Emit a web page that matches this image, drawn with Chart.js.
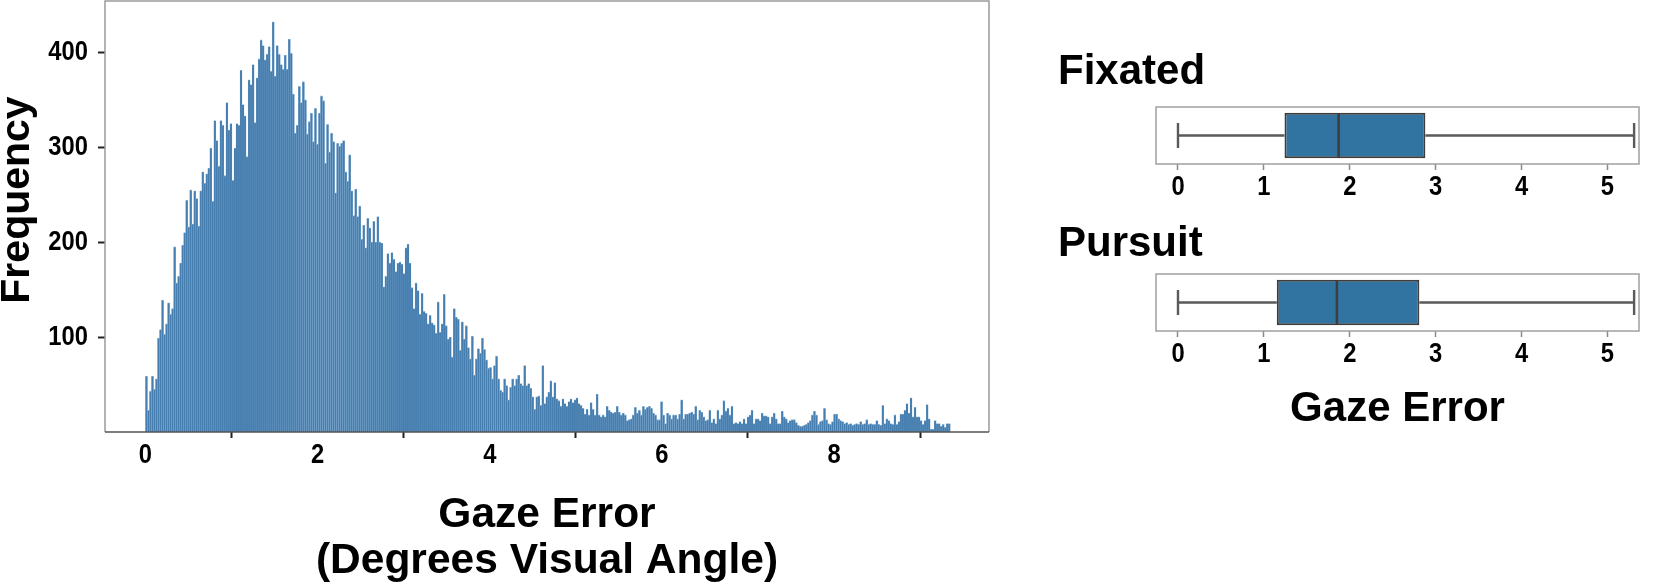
<!DOCTYPE html>
<html>
<head>
<meta charset="utf-8">
<script src="https://cdn.jsdelivr.net/npm/chart.js@4.4.0/dist/chart.umd.min.js"></script>
<style>
html,body{margin:0;padding:0;background:#fff;width:1660px;height:585px;overflow:hidden;}
.c{position:absolute;}
</style>
</head>
<body>
<div class="c" style="left:0;top:0;width:1000px;height:585px"><canvas id="hist"></canvas></div>
<div class="c" style="left:1058px;top:40px;width:602px;height:170px"><canvas id="fix"></canvas></div>
<div class="c" style="left:1058px;top:207px;width:602px;height:233px"><canvas id="pur"></canvas></div>
<script>
// ---------------- DATA ----------------
// Histogram of gaze error (degrees visual angle), 400 equal bins from 0 to 9.35
const binStart = 0;
const binEnd = 9.35;
const binCounts = [
  59, 23, 43, 59, 45, 56, 99, 108, 139, 103,
  114, 136, 124, 130, 195, 157, 164, 178, 197, 210,
  244, 216, 255, 219, 254, 246, 217, 254, 274, 262,
  272, 278, 299, 243, 328, 307, 280, 328, 323, 270,
  347, 318, 325, 265, 299, 325, 323, 381, 345, 333,
  290, 371, 366, 387, 326, 373, 393, 413,
  407, 392, 398, 406, 380, 432, 375, 407, 398, 387,
  382, 397, 382, 414, 399, 356, 315, 323, 364, 347,
  369, 350, 314, 327, 336, 306, 341, 303, 336, 354,
  349, 283, 324, 295, 315, 306, 252, 304, 301, 304,
  307, 274, 264, 292, 254, 228, 256, 227, 238, 203,
  218, 194, 225, 215, 200, 222, 200, 227, 200, 199,
  153, 164, 188, 178, 189, 182, 169, 178, 179, 177,
  167, 194, 198, 178, 152, 130, 157, 149, 124, 146,
  127, 125, 114, 123, 115, 113, 104, 137, 105, 114,
  145, 112, 98, 100, 79, 130, 121, 119, 86, 116,
  98, 112, 89, 77, 101, 60, 77, 88, 83, 99,
  87, 76, 67, 68, 56, 70, 80, 56, 44, 42,
  56, 49, 34, 47, 56, 49, 56, 60, 51, 49,
  70, 49, 51, 46, 37, 24, 37, 38, 28, 70,
  30, 37, 42, 54, 37, 52, 35, 33, 27, 35,
  30, 27, 32, 35, 31, 34, 36, 30, 28, 25,
  19, 24, 18, 31, 24, 18, 40, 18, 16, 18,
  16, 27, 23, 21, 20, 21, 27, 21, 18, 20,
  18, 12, 13, 14, 18, 26, 20, 23, 18, 27,
  24, 26, 27, 25, 20, 18, 13, 13, 32, 18,
  9, 20, 18, 14, 18, 18, 14, 19,
  34, 14, 19, 19, 20, 21, 19, 27, 13, 23,
  21, 16, 12, 13, 23, 10, 14, 9, 23, 14,
  18, 33, 22, 25, 18, 27, 9, 10, 9, 11,
  9, 14, 9, 16, 18, 23, 9, 14, 14, 12,
  20, 17, 17, 16, 9, 16, 20, 14, 9, 9,
  22, 16, 14, 10, 12, 13, 13, 10, 7, 6,
  6, 7, 8, 10, 12, 18, 22, 18, 8, 11,
  12, 25, 13, 9, 8, 11, 19, 19, 14, 12,
  11, 9, 10, 8, 9, 7, 8, 9, 8, 11,
  8, 9, 13, 8, 9, 8, 8, 12, 8, 7,
  28, 9, 14, 12, 9, 8, 18, 8, 11, 19,
  19, 23, 30, 20, 36, 16, 26, 16, 16, 12,
  8, 12, 29, 14, 3, 3, 12, 9, 9, 6,
  8, 5, 9, 9
];
const histXTicks = [0, 2, 4, 6, 8];
const histYTicks = [100, 200, 300, 400];
const histXTitle = ['Gaze Error', '(Degrees Visual Angle)'];
const histYTitle = 'Frequency';

// Box plots (Gaze Error by condition)
const groupNames = ['Fixated', 'Pursuit'];
const whiskerLow = [0, 0];
const quartile1 = [1.24, 1.15];
const medians = [1.87, 1.85];
const quartile3 = [2.88, 2.81];
const whiskerHigh = [5.31, 5.31];
const boxXTicks = [0, 1, 2, 3, 4, 5];
const boxXTitle = 'Gaze Error';

// ---------------- STYLE ----------------
const FONT = "'Liberation Sans', Arial, Helvetica, sans-serif";
const TICK_SIZE = 27;
const TICK_SQUEEZE = 0.88;   // tick digits in the reference are narrow/tall
const tickFont = { family: FONT, size: TICK_SIZE, weight: 'bold' };

// tick-label text drawn horizontally condensed (still real canvas text)
const _fillText = CanvasRenderingContext2D.prototype.fillText;
CanvasRenderingContext2D.prototype.fillText = function (text, x, y, maxWidth) {
  if (this.font.indexOf(TICK_SIZE + 'px') !== -1) {
    this.save();
    this.translate(x, y);
    this.scale(TICK_SQUEEZE, 1);
    _fillText.call(this, text, 0, 0);
    this.restore();
  } else if (maxWidth !== undefined) {
    _fillText.call(this, text, x, y, maxWidth);
  } else {
    _fillText.call(this, text, x, y);
  }
};

const binWidth = (binEnd - binStart) / binCounts.length;
const histPoints = binCounts.map((v, i) => ({ x: binStart + (i + 0.5) * binWidth, y: v }));

const histFrame = {
  id: 'histFrame',
  afterDraw(chart) {
    const { ctx, chartArea: a } = chart;
    ctx.save();
    ctx.lineWidth = 1.5;
    ctx.strokeStyle = '#9a9a9a';
    ctx.beginPath();
    ctx.moveTo(a.left, a.bottom); ctx.lineTo(a.left, a.top);
    ctx.lineTo(a.right, a.top); ctx.lineTo(a.right, a.bottom);
    ctx.stroke();
    ctx.strokeStyle = '#555';
    ctx.beginPath();
    ctx.moveTo(a.left, a.bottom); ctx.lineTo(a.right, a.bottom);
    ctx.stroke();
    // y axis title
    ctx.translate(29, 200);
    ctx.rotate(-Math.PI / 2);
    ctx.font = 'bold 41px ' + FONT;
    ctx.fillStyle = '#000';
    ctx.textAlign = 'center';
    ctx.textBaseline = 'alphabetic';
    ctx.fillText(histYTitle, 0, 0);
    ctx.restore();
  }
};

new Chart(document.getElementById('hist'), {
  type: 'bar',
  data: {
    datasets: [{
      data: histPoints,
      backgroundColor: '#467eaf',
      borderColor: '#8db4d6',
      borderWidth: { left: 0.35, right: 0.35, top: 0.8, bottom: 0 },
      borderSkipped: false,
      barPercentage: 1,
      categoryPercentage: 1
    }]
  },
  options: {
    responsive: true,
    maintainAspectRatio: false,
    animation: false,
    layout: { padding: { top: 1, right: 11, left: 0, bottom: 0 } },
    plugins: { legend: { display: false }, tooltip: { enabled: false } },
    scales: {
      x: {
        type: 'linear',
        offset: false,
        min: -0.47,
        max: 9.80,
        afterBuildTicks: s => { s.ticks = histXTicks.map(v => ({ value: v })); },
        afterFit: s => { s.height = 153; s.paddingLeft = 0; s.paddingRight = 0; },
        grid: { display: true, drawOnChartArea: false, drawTicks: true, tickLength: 6, tickWidth: 2, tickColor: '#222' },
        border: { display: false },
        ticks: { font: tickFont, color: '#000', padding: 1, maxRotation: 0, autoSkip: false },
        title: {
          display: true, text: histXTitle, color: '#000',
          font: { family: FONT, size: 42.5, weight: 'bold', lineHeight: 1.08 },
          padding: { top: 0, bottom: 1 }
        }
      },
      y: {
        min: 0,
        max: 454,
        afterBuildTicks: s => { s.ticks = histYTicks.map(v => ({ value: v })); },
        afterFit: s => { s.width = 105; s.paddingTop = 0; s.paddingBottom = 0; },
        grid: { display: true, drawOnChartArea: false, drawTicks: true, tickLength: 7, tickWidth: 2, tickColor: '#222' },
        border: { display: false },
        ticks: { font: tickFont, color: '#000', padding: 10, autoSkip: false }
      }
    }
  },
  plugins: [histFrame]
});

// Box plot drawing (whiskers, caps, median) through the chart's scales
const boxExtras = {
  id: 'boxExtras',
  afterDatasetsDraw(chart, args, opts) {
    const i = opts.idx;
    const { ctx } = chart;
    const xs = chart.scales.x;
    const bar = chart.getDatasetMeta(0).data[0];
    const cy = bar.y, h = bar.height;
    const pLo = xs.getPixelForValue(whiskerLow[i]);
    const pQ1 = xs.getPixelForValue(quartile1[i]);
    const pQ3 = xs.getPixelForValue(quartile3[i]);
    const pHi = xs.getPixelForValue(whiskerHigh[i]);
    const pMed = xs.getPixelForValue(medians[i]);
    ctx.save();
    ctx.strokeStyle = '#5a5a5a';
    ctx.lineWidth = 2.4;
    ctx.beginPath();
    ctx.moveTo(pLo, cy); ctx.lineTo(pQ1, cy);
    ctx.moveTo(pQ3, cy); ctx.lineTo(pHi, cy);
    ctx.moveTo(pLo, cy - h * 0.275); ctx.lineTo(pLo, cy + h * 0.275);
    ctx.moveTo(pHi, cy - h * 0.275); ctx.lineTo(pHi, cy + h * 0.275);
    ctx.stroke();
    ctx.strokeStyle = '#3d3d3d';
    ctx.lineWidth = 2.5;
    ctx.beginPath();
    ctx.moveTo(pMed, cy - h / 2 + 1); ctx.lineTo(pMed, cy + h / 2 - 1);
    ctx.stroke();
    // axes frame
    const a = chart.chartArea;
    ctx.strokeStyle = '#a0a0a0';
    ctx.lineWidth = 1.5;
    ctx.strokeRect(a.left, a.top, a.right - a.left, a.bottom - a.top);
    ctx.restore();
  }
};

function makeBox(canvasId, idx, axisHeight, showTitle, titlePadBottom, headPad) {
  new Chart(document.getElementById(canvasId), {
    type: 'bar',
    data: {
      labels: [groupNames[idx]],
      datasets: [{
        data: [[quartile1[idx], quartile3[idx]]],
        backgroundColor: '#3274a1',
        borderColor: '#3d3d3d',
        borderWidth: 2,
        borderSkipped: false,
        barPercentage: 0.8,
        categoryPercentage: 1
      }]
    },
    options: {
      indexAxis: 'y',
      responsive: true,
      maintainAspectRatio: false,
      animation: false,
      layout: { padding: { left: 0, right: 21, top: 0, bottom: 0 } },
      plugins: {
        legend: { display: false },
        tooltip: { enabled: false },
        title: {
          display: true, text: groupNames[idx], align: 'start', color: '#000',
          font: { family: FONT, size: 42, weight: 'bold', lineHeight: 1.2 },
          padding: headPad
        },
        boxExtras: { idx }
      },
      scales: {
        x: {
          type: 'linear',
          min: -0.256,
          max: 5.367,
          afterBuildTicks: s => { s.ticks = boxXTicks.map(v => ({ value: v })); },
          afterFit: s => { s.height = axisHeight; },
          grid: { display: true, drawOnChartArea: false, drawTicks: true, tickLength: 6, tickWidth: 1.5, tickColor: '#8a8a8a' },
          border: { display: false },
          ticks: { font: tickFont, color: '#000', padding: 1, maxRotation: 0, autoSkip: false },
          title: {
            display: showTitle, text: boxXTitle, color: '#000',
            font: { family: FONT, size: 42, weight: 'bold', lineHeight: 1.08 },
            padding: { top: 0, bottom: titlePadBottom }
          }
        },
        y: {
          afterFit: s => { s.width = 98; },
          ticks: { display: false },
          grid: { display: false },
          border: { display: false }
        }
      }
    },
    plugins: [boxExtras]
  });
}

makeBox('fix', 0, 46, false, 0, { top: 7, bottom: 9.6 });
makeBox('pur', 1, 109, true, 8, { top: 12, bottom: 4.6 });
</script>
</body>
</html>
